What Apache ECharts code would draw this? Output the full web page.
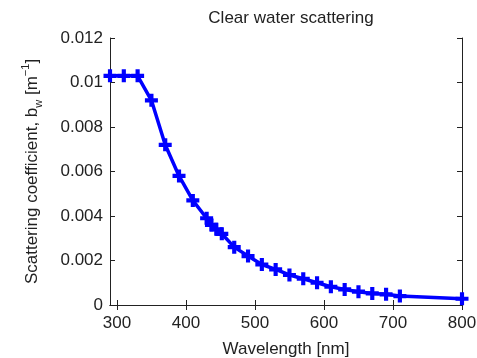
<!DOCTYPE html>
<html>
<head>
<meta charset="utf-8">
<script src="https://cdn.jsdelivr.net/npm/echarts@6/dist/echarts.min.js"></script>
<style>
  html, body { margin: 0; padding: 0; background: #fff; }
  #chart { width: 477px; height: 358px; }
</style>
</head>
<body>
<div id="chart"></div>
<script>
// values
const wavelengths = [290, 310, 330, 350, 370, 390, 410, 430, 437, 444, 452, 470, 490,
  510, 530, 550, 570, 590, 610, 630, 650, 670, 690, 710, 800];
const scattering = [0.0103, 0.0103, 0.0103, 0.0092, 0.0072, 0.0058, 0.0047, 0.0039,
  0.0036, 0.0034, 0.0032, 0.0026, 0.0022, 0.00182, 0.0016, 0.00135, 0.00118, 0.001,
  0.00082, 0.0007, 0.0006, 0.00052, 0.00048, 0.0004, 0.00028];
const xTicks = [300, 400, 500, 600, 700, 800];
const yTicks = [0, 0.002, 0.004, 0.006, 0.008, 0.01, 0.012];

const textColor = "#222";
const font = "Liberation Sans";
const plus = "path://M3.4,0H6.6V3.4H10V6.6H6.6V10H3.4V6.6H0V3.4H3.4Z";

const chart = echarts.init(document.getElementById("chart"));

const xBase = {
  type: "value",
  min: 290,
  max: 800,
  axisLine: { show: true, lineStyle: { color: textColor, width: 1 } },
  axisTick: { show: true, inside: true, length: 5, customValues: xTicks, lineStyle: { color: textColor } },
  splitLine: { show: false }
};
const yBase = {
  type: "value",
  min: 0,
  max: 0.012,
  interval: 0.002,
  axisLine: { show: true, lineStyle: { color: textColor, width: 1 } },
  axisTick: { show: true, inside: true, length: 5, lineStyle: { color: textColor } },
  splitLine: { show: false }
};

const option = {
  animation: false,
  textStyle: { fontFamily: font },
  title: {
    text: "Clear water scattering",
    left: 286,
    textAlign: "center",
    top: 5,
    textStyle: { fontFamily: font, fontSize: 17, fontWeight: "normal", color: textColor }
  },
  grid: { left: 110, right: 15, top: 38, bottom: 53, outerBoundsMode: "none" },
  xAxis: [
    Object.assign({}, xBase, {
      position: "bottom",
      name: "Wavelength [nm]",
      nameLocation: "middle",
      nameGap: 36,
      nameTextStyle: { fontFamily: font, fontSize: 17, color: textColor },
      axisLabel: { customValues: xTicks, margin: 10, fontFamily: font, fontSize: 17, color: textColor }
    }),
    Object.assign({}, xBase, { position: "top", axisLabel: { show: false } })
  ],
  yAxis: [
    Object.assign({}, yBase, {
      position: "left",
      name: "{a|Scattering coefficient, b}{sub|w}{a| [m}{sup|−1}{a|]}",
      nameLocation: "middle",
      nameRotate: 90,
      nameGap: 66,
      nameTextStyle: {
        fontFamily: font,
        fontSize: 17,
        color: textColor,
        rich: {
          a: { fontFamily: font, fontSize: 17, color: textColor, lineHeight: 24 },
          sub: { fontFamily: font, fontSize: 11, color: textColor, verticalAlign: "bottom", lineHeight: 24 },
          sup: { fontFamily: font, fontSize: 11, color: textColor, verticalAlign: "top", lineHeight: 24 }
        }
      },
      axisLabel: {
        margin: 7,
        fontFamily: font,
        fontSize: 17,
        color: textColor,
        formatter: v => String(+v.toFixed(3))
      }
    }),
    Object.assign({}, yBase, { position: "right", axisLabel: { show: false } })
  ],
  series: [
    {
      type: "line",
      xAxisIndex: 0,
      yAxisIndex: 0,
      data: wavelengths.map((w, i) => [w, scattering[i]]),
      symbol: plus,
      symbolSize: 13,
      showSymbol: true,
      clip: false,
      itemStyle: { color: "#0000ff" },
      lineStyle: { color: "#0000ff", width: 3.5 }
    }
  ]
};

chart.setOption(option);
</script>
</body>
</html>
